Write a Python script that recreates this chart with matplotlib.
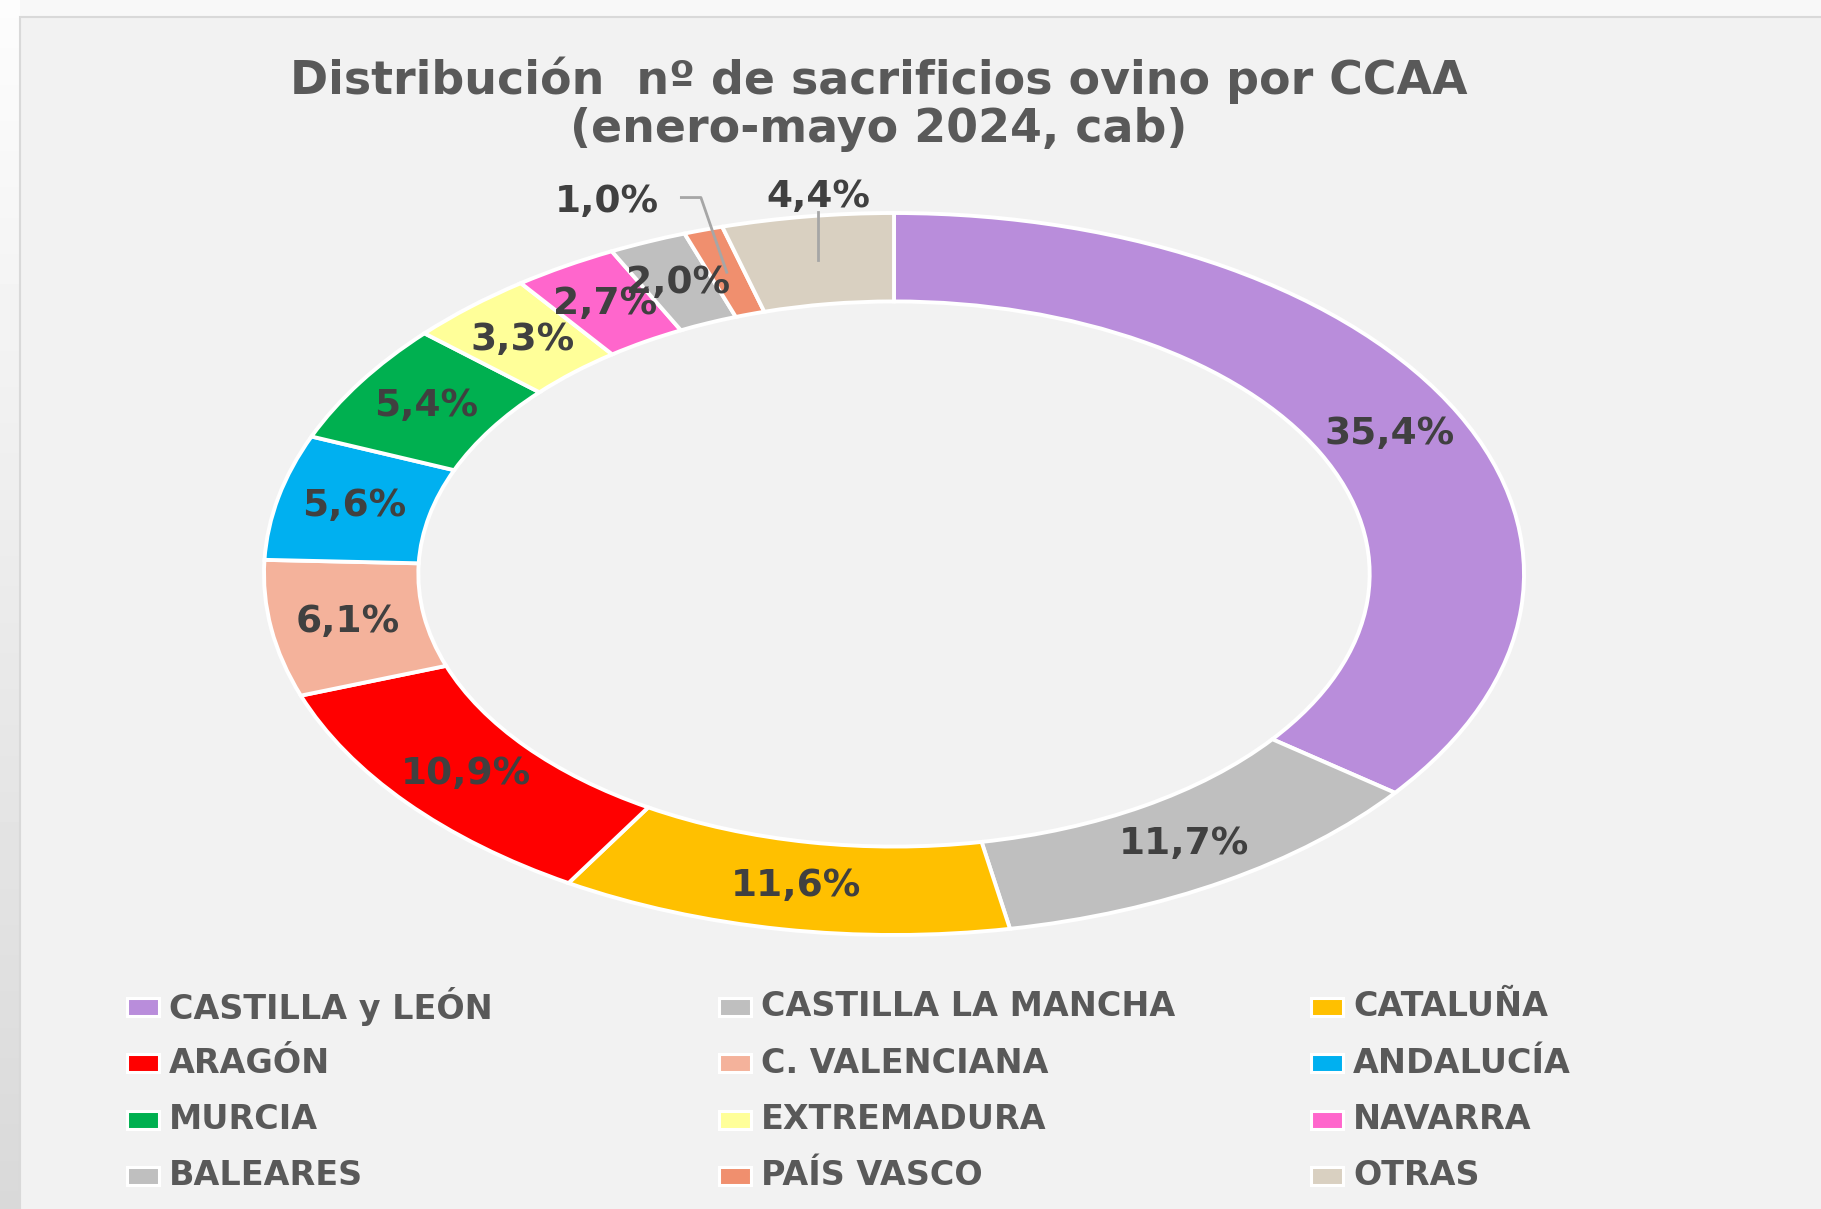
import matplotlib.pyplot as plt
import numpy as np
from matplotlib.patches import Rectangle

# datos
regiones = ['CASTILLA y LEÓN', 'CASTILLA LA MANCHA', 'CATALUÑA', 'ARAGÓN',
            'C. VALENCIANA', 'ANDALUCÍA', 'MURCIA', 'EXTREMADURA', 'NAVARRA',
            'BALEARES', 'PAÍS VASCO', 'OTRAS']
porcentajes = [35.4, 11.7, 11.6, 10.9, 6.1, 5.6, 5.4, 3.3, 2.7, 2.0, 1.0, 4.4]
colores = ['#B98DDB', '#BFBFBF', '#FFC000', '#FF0000', '#F4B29B', '#00B0F0',
           '#00B050', '#FFFF99', '#FF66CC', '#BFBFBF', '#F08F6E', '#D9D0C1']
titulo = 'Distribución  nº de sacrificios ovino por CCAA\n(enero-mayo 2024, cab)'

W, H = 1821, 1209
fig = plt.figure(figsize=(W / 100, H / 100), dpi=100)
fig.patch.set_facecolor('#F8F8F8')

# fondo: franja gris a la izquierda (degradado) y area del grafico
axf = fig.add_axes([0, 0, 1, 1], zorder=-5)
axf.imshow(np.linspace(0.99, 0.85, 200).reshape(-1, 1), cmap='gray', vmin=0, vmax=1,
           aspect='auto', extent=[0, 20, H, 0])
axf.add_patch(Rectangle((20, 17), W, H, facecolor='#F2F2F2', edgecolor='#D9D9D9', lw=1.5))
axf.set_xlim(0, W)
axf.set_ylim(H, 0)
axf.axis('off')

fig.text(879 / W, 1 - 104 / H, titulo, ha='center', va='center', fontsize=33,
         fontweight='bold', color='#595959', linespacing=1.1, family='DejaVu Sans')

# anillo (estirado horizontalmente como el original)
cx, cy, rx, ry = 894, 574, 630, 361
ax = fig.add_axes([(cx - rx) / W, (H - cy - ry) / H, 2 * rx / W, 2 * ry / H])
wedges, texts, autotexts = ax.pie(porcentajes, colors=colores, startangle=90, counterclock=False,
                                  radius=1, autopct='%1.1f%%', pctdistance=0.877,
                                  wedgeprops=dict(width=0.245, edgecolor='white', linewidth=2.8),
                                  textprops=dict(fontsize=27, fontweight='bold', color='#404040'))
ax.set_aspect('auto')
ax.set_xlim(-1, 1)
ax.set_ylim(-1, 1)
ax.axis('off')

for t, v in zip(autotexts, porcentajes):
    t.set_text(f'{v:.1f}%'.replace('.', ','))

# etiquetas externas con linea guia
i_pv = regiones.index('PAÍS VASCO')
x0, y0 = autotexts[i_pv].get_position()
autotexts[i_pv].set_position((x0 - 0.19, y0 + 0.195))
ax.plot([x0 - 0.072, x0 - 0.041, x0], [y0 + 0.207, y0 + 0.207, y0], color='#A6A6A6', lw=2,
        clip_on=False)

i_ot = regiones.index('OTRAS')
x1, y1 = autotexts[i_ot].get_position()
autotexts[i_ot].set_position((x1, y1 + 0.175))
ax.plot([x1, x1], [y1 + 0.135, y1], color='#A6A6A6', lw=2, clip_on=False)

# leyenda en filas de 3
axl = fig.add_axes([0, 0, 1, 1])
axl.set_xlim(0, W)
axl.set_ylim(H, 0)
axl.axis('off')
for i, (reg, col) in enumerate(zip(regiones, colores)):
    fila, columna = i // 3, i % 3
    x = 127 + columna * 592
    y = 1007 + fila * 56.3
    axl.add_patch(Rectangle((x, y - 9), 32, 18, facecolor=col, edgecolor='white', lw=2.2))
    axl.text(x + 42, y, reg, ha='left', va='center', fontsize=24, fontweight='bold',
             color='#595959', family='DejaVu Sans')

plt.savefig('out.png', dpi=100, facecolor=fig.get_facecolor())
plt.close()
